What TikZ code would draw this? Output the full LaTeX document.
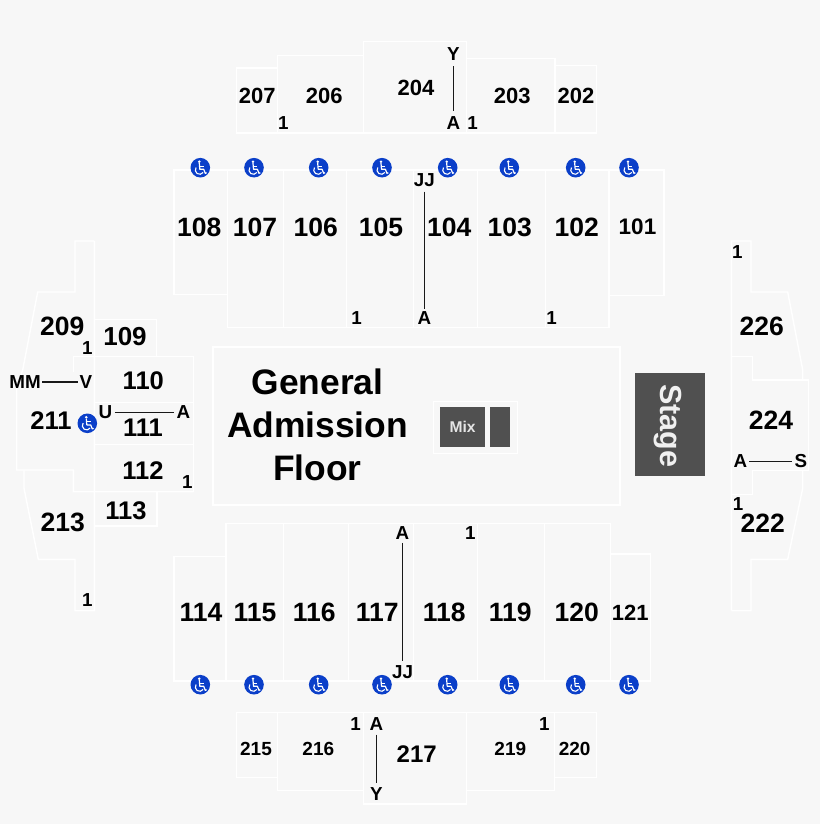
\documentclass[tikz,border=0pt]{standalone}
\usepackage{fontspec}
\setmainfont{Liberation Sans}
\tikzset{
  x=1pt,y=-1pt,
  sec/.style={draw=white,line width=1.4pt,line join=miter},
  lab/.style={inner sep=0pt,font=\fontsize{#1}{#1}\selectfont\bfseries,text=black},
  lab/.default=26.5,
  row/.style={inner sep=0pt,font=\fontsize{18.8}{18.8}\selectfont\bfseries,text=black},
  conn/.style={draw=black!90,line width=1.5pt},
  darkbox/.style={fill=boxgray,draw=none},
  wheel/.pic={
    \fill[iconblue] (0,0) circle[radius=9.8];
    \fill[white] (-1,-6) circle[radius=1.4];
    \draw[white,line width=1.2pt,line join=round] (-1,-4.5) -- (-0.5,1.6) -- (3.4,1.6) -- (5,5.6) -- (6.3,5);
    \draw[white,line width=1.1pt] (-0.8,-1.6) -- (3.2,-1.6);
    \draw[white,line width=1.1pt] (-0.7,2.3) ++(215:4.3) arc[start angle=215,end angle=35,radius=4.3];
  }
}
\definecolor{boxgray}{HTML}{505050}
\definecolor{iconblue}{HTML}{0B3FC9}
\definecolor{bggray}{HTML}{F7F7F7}
\begin{document}
\begin{tikzpicture}
\useasboundingbox (0,0) rectangle (820,824);
\fill[bggray] (0,0) rectangle (820,824);
% upper tier, top
\draw[sec] (277.7,133) -- (236.7,133) -- (236.7,68) -- (277.7,68);
\draw[sec] (236.7,133) -- (596.7,133) -- (596.7,65.7) -- (555,65.7);
\draw[sec] (277.7,133) -- (277.7,55.3) -- (363.3,55.3);
\draw[sec] (363.3,133) -- (363.3,41.7) -- (466.3,41.7) -- (466.3,133);
\draw[sec] (466.3,58.3) -- (555,58.3) -- (555,133);
% upper tier, bottom
\draw[sec] (236.7,712.3) rectangle (277.7,777.3);
\draw[sec] (277.7,712.3) -- (277.7,790.3) -- (363.3,790.3);
\draw[sec] (236.7,712.3) -- (596.7,712.3) -- (596.7,777.3) -- (554.3,777.3);
\draw[sec] (363.3,712.3) -- (363.3,804) -- (466.3,804) -- (466.3,712.3);
\draw[sec] (466.3,790.3) -- (554.3,790.3) -- (554.3,712.3);
% lower tier, top
\draw[sec] (227.3,294.3) -- (174,294.3) -- (174,170) -- (664,170) -- (664,295.5) -- (609,295.5);
\draw[sec] (227.3,170) -- (227.3,327.7) -- (609,327.7) -- (609,170);
\draw[sec] (283.3,170) -- (283.3,327.7);
\draw[sec] (346.7,170) -- (346.7,327.7);
\draw[sec] (413.3,170) -- (413.3,327.7);
\draw[sec] (477.7,170) -- (477.7,327.7);
\draw[sec] (545.7,170) -- (545.7,327.7);
% lower tier, bottom
\draw[sec] (226,556.7) -- (174,556.7) -- (174,681) -- (650.7,681) -- (650.7,554) -- (610.7,554);
\draw[sec] (226,681) -- (226,523.3) -- (610.7,523.3) -- (610.7,681);
\draw[sec] (283.3,523.3) -- (283.3,681);
\draw[sec] (348.3,523.3) -- (348.3,681);
\draw[sec] (413.3,523.3) -- (413.3,681);
\draw[sec] (477.7,523.3) -- (477.7,681);
\draw[sec] (544.3,523.3) -- (544.3,681);
% left side
\draw[sec] (94.3,241) -- (75,241) -- (75,292) -- (37.7,292) -- (22.7,370) -- (16.7,387) -- (16.7,470) -- (73.3,470) -- (73.3,491.7) -- (193.3,491.7);
\draw[sec] (24,470) -- (24,488.3) -- (38.3,559.3) -- (75,559.3) -- (75,610.7) -- (94.3,610.7) -- (94.3,241);
\draw[sec] (73.3,372) -- (73.3,356.7) -- (193.3,356.7) -- (193.3,491.7);
\draw[sec] (94.3,319.3) -- (156.3,319.3) -- (156.3,356.7);
\draw[sec] (94.3,402.7) -- (193.3,402.7);
\draw[sec] (94.3,444.3) -- (193.3,444.3);
\draw[sec] (157,491.7) -- (157,526) -- (94.3,526);
% right side
\draw[sec] (731.3,610.7) -- (731.3,241) -- (751,241) -- (751,292) -- (787.7,292) -- (802.7,370) -- (802.7,380);
\draw[sec] (731.3,356.7) -- (752.3,356.7) -- (752.3,380) -- (808.7,380) -- (808.7,470.7) -- (752.3,470.7) -- (752.3,494.3) -- (731.3,494.3);
\draw[sec] (802.7,470.7) -- (802.7,488.3) -- (787.7,559.3) -- (751,559.3) -- (751,610.7) -- (731.3,610.7);
% floor, mix, stage
\draw[sec] (213,347) rectangle (620,505);
\draw[sec] (433.3,401.7) rectangle (517.7,453.3);
\fill[darkbox] (490.3,407.3) rectangle (510.3,446.7);
\node[darkbox,minimum width=44.7pt,minimum height=39.4pt,inner sep=0pt,text=white!90!black,font=\fontsize{15.6}{15.6}\selectfont\bfseries] (mix) at (462.6,427) {Mix};
\node[darkbox,minimum width=70pt,minimum height=102.4pt,inner sep=0pt] (stagebox) at (669.7,424.5) {};
\node[rotate=-90,inner sep=0pt,text=white!94!black,font=\fontsize{30.5}{30.5}\selectfont\bfseries] (stage) at (667.5,425.7) {Stage};
\node[lab=35.4,align=center,font=\fontsize{35.4}{43}\selectfont\bfseries] (floor) at (317.5,425) {General\\Admission\\Floor};
% wheelchair icons
\foreach \wx/\wy/\wn in {200.3/167.7/a,254/167.7/b,318.7/167.7/c,382/167.7/d,447.7/167.7/e,509.3/167.7/f,575.7/167.7/g,629/167.7/h,
  200.3/684.7/i,254/684.7/j,318.7/684.7/k,382/684.7/l,447.7/684.7/m,509.3/684.7/n,575.7/684.7/o,629/684.7/p,87.3/423.3/q}
  \pic (w\wn) at (\wx,\wy) {wheel};
% section labels
\foreach \sx/\sy/\sz/\st in {
  257.3/95.7/22/207,324.3/95.7/22/206,416/87.7/22/204,512.3/95.7/22/203,576/95.7/22/202,
  199.3/227.3/26.5/108,255/227.3/26.5/107,315.7/227.3/26.5/106,381/227.3/26.5/105,449.3/227.3/26.5/104,509.7/227.3/26.5/103,576.7/227.3/26.5/102,637.5/227/22.5/101,
  201/612.7/26.5/114,255/612.7/26.5/115,314.3/612.7/26.5/116,377.3/612.7/26.5/117,444.3/612.7/26.5/118,510.3/612.7/26.5/119,576.7/612.7/26.5/120,630.3/612.7/22/121,
  256/749/19/215,318.3/749/19/216,416.7/754/24/217,510.3/749/19/219,574.7/749/19/220,
  62.3/326.7/26.5/209,125/336.7/26/109,143.3/381/25.5/110,143/427.3/25.5/111,143/470.7/25.5/112,126/511/25.5/113,51/420.3/25.5/211,62.7/522.7/26.5/213,
  761.7/326.7/26.5/226,771/420.7/26.5/224,762.7/523.3/26.5/222}
  \node[lab=\sz] (s\st) at (\sx,\sy) {\st};
% row labels
\node[row] (r1) at (453.5,54) {Y};
\node[row] (r2) at (453.5,122.7) {A};
\node[row] (r3) at (424.3,180.3) {JJ};
\node[row] (r4) at (424.3,318.3) {A};
\node[row] (r5) at (402.5,533.3) {A};
\node[row] (r6) at (402.5,671.7) {JJ};
\node[row] (r7) at (376.5,724) {A};
\node[row] (r8) at (376.5,794) {Y};
\node[row] (r9) at (25,382) {MM};
\node[row] (r10) at (86,382) {V};
\node[row] (r11) at (105.3,412.5) {U};
\node[row] (r12) at (183.3,412.5) {A};
\node[row] (r13) at (740.3,461.5) {A};
\node[row] (r14) at (801,461.5) {S};
\foreach \ox/\oy/\on in {283.3/122.7/a,472.7/122.7/b,356.7/318.3/c,551.7/318.3/d,470.3/533.3/e,355.7/723.7/f,544.3/723.7/g,
  87.3/348.3/h,187.3/482.3/i,87.3/600/j,737.3/251.7/k,738/504/l}
  \node[row] (one\on) at (\ox,\oy) {1};
% aisle lines
\draw[conn,shorten >=5.5pt,shorten <=5.5pt] (r1) -- (r2);
\draw[conn,shorten >=3pt,shorten <=4.5pt] (r3) -- (r4);
\draw[conn,shorten >=4pt,shorten <=3pt] (r5) -- (r6);
\draw[conn,shorten >=4pt,shorten <=4pt] (r7) -- (r8);
\draw[conn,shorten >=1.5pt,shorten <=1.5pt] (r9) -- (r10);
\draw[conn,shorten >=2pt,shorten <=2.5pt] (r11) -- (r12);
\draw[conn,shorten >=3pt,shorten <=2pt] (r13) -- (r14);
\end{tikzpicture}
\end{document}
